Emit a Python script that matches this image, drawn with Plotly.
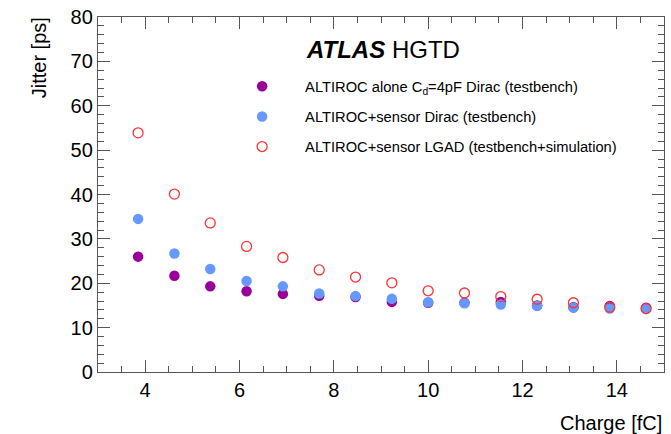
import plotly.graph_objects as go

charge = [3.85, 4.62, 5.38, 6.15, 6.92, 7.69, 8.46, 9.23, 10.0, 10.77, 11.54, 12.31, 13.08, 13.85, 14.62]
jitter_alone = [26.0, 21.7, 19.3, 18.2, 17.6, 17.2, 16.9, 15.8, 15.6, 15.6, 15.8, 15.0, 14.6, 14.9, 14.5]
jitter_sensor = [34.5, 26.7, 23.2, 20.5, 19.3, 17.7, 17.1, 16.5, 15.7, 15.5, 15.2, 14.9, 14.5, 14.3, 14.2]
jitter_lgad = [53.9, 40.1, 33.6, 28.3, 25.8, 23.0, 21.4, 20.1, 18.3, 17.8, 17.0, 16.4, 15.6, 14.6, 14.3]

names = [
    "ALTIROC alone C<sub>d</sub>=4pF Dirac (testbench)",
    "ALTIROC+sensor Dirac (testbench)",
    "ALTIROC+sensor LGAD (testbench+simulation)",
]

FONT = "Liberation Sans, Arial, Helvetica, sans-serif"
AX = "#555555"

fig = go.Figure()
fig.add_trace(go.Scatter(x=charge, y=jitter_alone, mode="markers", name=names[0], legendgroup="a",
                         marker=dict(symbol="circle", size=10.5, color="#990099")))
fig.add_trace(go.Scatter(x=charge, y=jitter_sensor, mode="markers", name=names[1], legendgroup="b",
                         marker=dict(symbol="circle", size=10.5, color="#6699ff")))
fig.add_trace(go.Scatter(x=charge, y=jitter_lgad, mode="markers", name=names[2], legendgroup="c",
                         marker=dict(symbol="circle-open", size=10, color="#ff3333", line=dict(width=1.3))))
# empty trace to bring the mirrored tick axes into being
fig.add_trace(go.Scatter(x=[None], y=[None], xaxis="x2", yaxis="y2", showlegend=False, hoverinfo="skip"))

common = dict(ticks="inside", linecolor=AX, linewidth=1.3, tickcolor=AX, tickwidth=1.2,
              showgrid=False, zeroline=False, showline=True)

fig.update_layout(
    width=671, height=434,
    margin=dict(l=98, r=7, t=17, b=62),
    paper_bgcolor="white", plot_bgcolor="white",
    font=dict(family=FONT, color="black"),
    showlegend=True,
    xaxis=dict(range=[3, 15], tick0=0, dtick=2, ticklen=12,
               minor=dict(dtick=0.5, ticklen=6, ticks="inside", tickcolor=AX, tickwidth=1.2, showgrid=False),
               tickfont=dict(size=20), **common),
    yaxis=dict(range=[0, 80], tick0=0, dtick=10, ticklen=12,
               minor=dict(dtick=2, ticklen=6, ticks="inside", tickcolor=AX, tickwidth=1.2, showgrid=False),
               tickfont=dict(size=20), **common),
    xaxis2=dict(range=[3, 15], overlaying="x", side="top", anchor="y2", tick0=0, dtick=2, ticklen=12,
                minor=dict(dtick=0.5, ticklen=6, ticks="inside", tickcolor=AX, tickwidth=1.2, showgrid=False),
                showticklabels=False, **common),
    yaxis2=dict(range=[0, 80], overlaying="y", side="right", anchor="x2", tick0=0, dtick=10, ticklen=12,
                minor=dict(dtick=2, ticklen=6, ticks="inside", tickcolor=AX, tickwidth=1.2, showgrid=False),
                showticklabels=False, **common),
    legend=dict(x=0.214, y=0.85, xanchor="left", yanchor="top", bgcolor="rgba(0,0,0,0)",
                font=dict(size=14.7, family=FONT), itemwidth=76, traceorder="grouped", tracegroupgap=8),
    annotations=[
        dict(text="<b><i>ATLAS</i></b> HGTD", x=0.364, y=0.909, xref="paper", yref="paper",
             xanchor="left", yanchor="middle", showarrow=False, font=dict(size=24, family=FONT)),
        dict(text="Jitter [ps]", x=-0.105, y=1.005, xref="paper", yref="paper", textangle=-90,
             xanchor="center", yanchor="top", showarrow=False, font=dict(size=20, family=FONT)),
        dict(text="Charge [fC]", x=1.0, y=-0.145, xref="paper", yref="paper",
             xanchor="right", yanchor="middle", showarrow=False, font=dict(size=20, family=FONT)),
    ],
)

fig.write_html("out.html", config={"displayModeBar": False},
               post_script="document.body.style.margin='0';document.body.style.overflow='hidden';")
